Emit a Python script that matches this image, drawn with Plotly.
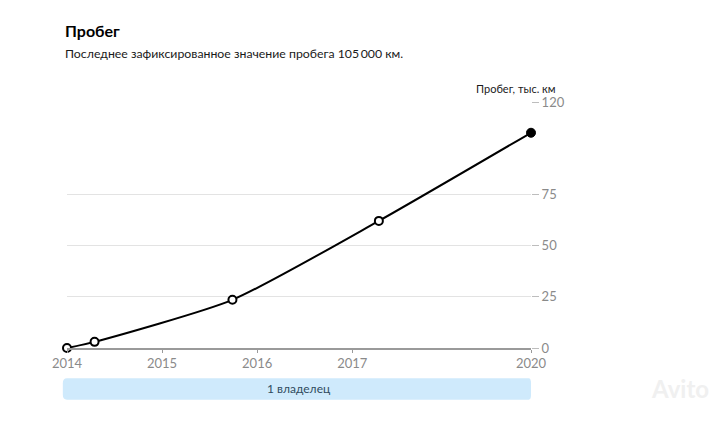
import plotly.graph_objects as go

# Data (x positions on the chart's own year scale; 2014 = 0, one unit per year up to 2017)
x_pos = [0.0, 0.29, 1.74, 3.28, 4.88]
mileage = [0, 3, 23.5, 62, 105]
tick_pos = [0, 1, 2, 3, 4.88]
tick_labels = ["2014", "2015", "2016", "2017", "2020"]
y_ticks = [0, 25, 50, 75, 120]

FONT = "Lato, 'Open Sans', sans-serif"

fig = go.Figure()
fig.add_trace(go.Scatter(
    x=x_pos, y=mileage, mode="lines",
    line=dict(color="#000000", width=2, shape="spline", smoothing=0.6),
    hoverinfo="skip", cliponaxis=False, showlegend=False,
))
fig.add_trace(go.Scatter(
    x=x_pos[:-1], y=mileage[:-1], mode="markers",
    marker=dict(size=8, color="#ffffff", line=dict(color="#000000", width=2)),
    cliponaxis=False, showlegend=False,
))
fig.add_trace(go.Scatter(
    x=x_pos[-1:], y=mileage[-1:], mode="markers",
    marker=dict(size=9, color="#000000", line=dict(color="#000000", width=1)),
    cliponaxis=False, showlegend=False,
))

fig.update_layout(
    width=712, height=414,
    margin=dict(l=59, r=189, t=94, b=74),
    paper_bgcolor="#ffffff", plot_bgcolor="#ffffff",
    font=dict(family=FONT, color="#8a8a8a", size=13),
    xaxis=dict(
        range=[0, 4.88], tickvals=tick_pos, ticktext=tick_labels,
        showgrid=False, zeroline=False,
        showline=True, linecolor="#9a9a9a", linewidth=1.5,
        ticks="outside", ticklen=3, tickcolor="#9a9a9a",
        tickfont=dict(size=13, color="#8a8a8a"),
    ),
    yaxis=dict(
        range=[0, 120], side="right", tickvals=y_ticks,
        showgrid=True, gridcolor="#e3e3e3", gridwidth=1,
        zeroline=False, showline=False,
        ticks="outside", ticklen=7, tickcolor="#bdbdbd",
        tickfont=dict(size=13, color="#8a8a8a"),
    ),
    shapes=[
        dict(type="path", xref="paper", yref="paper",
             path="M 0.0,-0.123 L 0.995,-0.123 Q 1.0,-0.123 1.0,-0.143 L 1.0,-0.19 "
                  "Q 1.0,-0.21 0.995,-0.21 L -0.0,-0.21 Q -0.009,-0.21 -0.009,-0.19 "
                  "L -0.009,-0.143 Q -0.009,-0.123 0.0,-0.123 Z",
             fillcolor="#cfeafc", line=dict(width=0), layer="below"),
    ],
    annotations=[
        dict(text="<b>Пробег</b>", xref="paper", yref="paper", x=-0.009, y=1.0,
             xanchor="left", yanchor="middle", yshift=72, showarrow=False,
             font=dict(size=16, color="#000000", family=FONT)),
        dict(text="Последнее зафиксированное значение пробега 105\u2009000 км.",
             xref="paper", yref="paper", x=-0.009, y=1.0,
             xanchor="left", yanchor="middle", yshift=49, showarrow=False,
             font=dict(size=12.3, color="#1a1a1a", family=FONT)),
        dict(text="Пробег, тыс. км", xref="paper", yref="paper", x=1.0, y=1.0,
             xanchor="right", yanchor="middle", xshift=27, yshift=14, showarrow=False,
             font=dict(size=11, color="#1a1a1a", family=FONT)),
        dict(text="1 владелец", xref="paper", yref="paper", x=0.5, y=-0.166,
             xanchor="center", yanchor="middle", showarrow=False,
             font=dict(size=12, color="#2f4a5e", family=FONT)),
        dict(text="<b>Avito</b>", xref="paper", yref="paper", x=1.0, y=-0.166,
             xanchor="left", yanchor="middle", xshift=118, showarrow=False,
             font=dict(size=24, color="#f0f0f0", family=FONT)),
    ],
)

fig.write_html("out.html")
